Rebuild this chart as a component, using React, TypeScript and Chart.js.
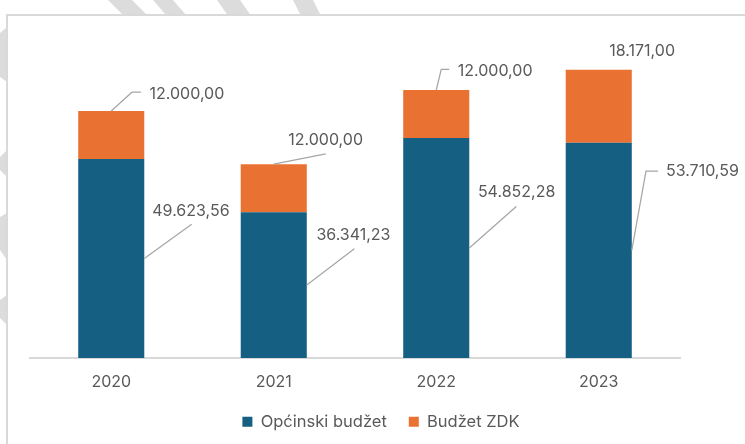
import React, { useEffect, useRef } from 'react';
import { Chart, registerables } from 'chart.js';

Chart.register(...registerables);

// ---- data ----
const categories = ['2020', '2021', '2022', '2023'];
const opcinskiBudzet = [49623.56, 36341.23, 54852.28, 53710.59];
const budzetZDK = [12000, 12000, 12000, 18171];
const seriesNames = ['Općinski budžet', 'Budžet ZDK'];
const seriesColors = ['#156082', '#E97132'];
const yMax = 80000;

// ---- callout placement (offsets from the anchor of each bar segment) ----
type Callout = { text: [number, number]; leader: [number, number][] };
const opcCallouts: Callout[] = [
  { text: [8, -47.2], leader: [[47.4, -34.2]] },
  { text: [9.6, -50], leader: [[47.6, -36.4]] },
  { text: [8.6, -55.7], leader: [[47, -41.4]] },
  { text: [34.2, -78.6], leader: [[14.2, -79.2], [26.2, -79.2]] },
];
const zdkCallouts: Callout[] = [
  { text: [38.3, -17], leader: [[20.7, -18.7], [29.7, -18.7]] },
  { text: [14.5, -23.6], leader: [[52, -10.3]] },
  { text: [21.5, -19], leader: [[5, -20.7], [13, -20.7]] },
  { text: [10.5, -18.3], leader: [] },
];

const FONT = 'Inter';
const TEXT_COLOR = '#595959';

function formatHr(v: number): string {
  const [i, d] = v.toFixed(2).split('.');
  return i.replace(/\B(?=(\d{3})+(?!\d))/g, '.') + ',' + d;
}

const calloutPlugin = {
  id: 'callouts',
  afterDatasetsDraw(chart: any) {
    const ctx = chart.ctx as CanvasRenderingContext2D;
    ctx.save();
    ctx.font = `16px ${FONT}`;
    ctx.fillStyle = TEXT_COLOR;
    ctx.textAlign = 'left';
    ctx.textBaseline = 'middle';
    ctx.strokeStyle = '#A6A6A6';
    ctx.lineWidth = 1.25;
    chart.data.datasets.forEach((ds: any, di: number) => {
      const meta = chart.getDatasetMeta(di);
      const layout = di === 0 ? opcCallouts : zdkCallouts;
      meta.data.forEach((el: any, i: number) => {
        const p = el.getProps(['x', 'y', 'base', 'width'], true);
        const ax = di === 0 ? p.x + p.width / 2 : p.x;
        const ay = di === 0 ? (p.y + p.base) / 2 : p.y;
        const L = layout[i];
        if (L.leader.length) {
          ctx.beginPath();
          ctx.moveTo(ax, ay);
          L.leader.forEach(([dx, dy]) => ctx.lineTo(ax + dx, ay + dy));
          ctx.stroke();
        }
        ctx.fillText(formatHr(ds.data[i]), ax + L.text[0], ay + L.text[1]);
      });
    });
    ctx.restore();
  },
};

const legendShift = {
  id: 'legendShift',
  afterLayout(chart: any) {
    const l = chart.legend;
    if (l) {
      l.left += 26;
      l.right += 26;
    }
  },
};

const stripes: string[] = [
  '108,0 132,0 162,30 138,30',
  '153,0 173,0 199,30 179,30',
  '217,0 240,0 261,30 238,30',
  '293,0 313,0 328,30 308,30',
  '0,33 7,27 12,27 12,84 7,82 0,77',
  '0,157 7,150 12,150 12,178 7,177 0,170',
  '0,217 7,213 12,213 12,262 7,260 0,250',
  '0,300 7,295 12,295 12,326 7,325 0,318',
];

export default function App() {
  const ref = useRef<HTMLCanvasElement>(null);

  useEffect(() => {
    if (!ref.current) return;
    const chart = new Chart(ref.current, {
      type: 'bar',
      data: {
        labels: categories,
        datasets: [
          {
            label: seriesNames[0],
            data: opcinskiBudzet,
            backgroundColor: seriesColors[0],
            barPercentage: 0.4065,
            categoryPercentage: 1,
          },
          {
            label: seriesNames[1],
            data: budzetZDK,
            backgroundColor: seriesColors[1],
            barPercentage: 0.4065,
            categoryPercentage: 1,
          },
        ],
      },
      options: {
        animation: false,
        responsive: false,
        layout: { padding: { top: 37.3, left: 30, right: 65, bottom: 4 } },
        scales: {
          x: {
            stacked: true,
            grid: { display: false, drawTicks: false },
            border: { display: true, color: '#D9D9D9', width: 2 },
            ticks: { color: TEXT_COLOR, font: { family: FONT, size: 16 }, padding: 14.2 },
            afterFit: (scale: any) => {
              scale.height = 33.6;
            },
          },
          y: {
            stacked: true,
            display: false,
            min: 0,
            max: yMax,
          },
        },
        plugins: {
          legend: {
            position: 'bottom',
            labels: {
              boxWidth: 10,
              boxHeight: 10,
              padding: 22,
              color: TEXT_COLOR,
              font: { family: FONT, size: 16.5 },
            },
          },
          tooltip: { enabled: false },
        },
      },
      plugins: [calloutPlugin, legendShift],
    });
    return () => chart.destroy();
  }, []);

  return (
    <div
      style={{
        position: 'fixed',
        left: 0,
        top: 0,
        width: 745,
        height: 444,
        overflow: 'hidden',
        background: '#FFFFFF',
      }}
    >
      <svg width={745} height={444} style={{ position: 'absolute', left: 0, top: 0 }}>
        {stripes.map((pts, i) => (
          <polygon key={i} points={pts} fill="#DCDCDC" />
        ))}
      </svg>
      <div
        style={{
          position: 'absolute',
          left: 6,
          top: 14,
          width: 800,
          height: 500,
          background: '#FFFFFF',
          borderTop: '2px solid #D9D9D9',
          borderLeft: '2px solid #D9D9D9',
        }}
      />
      <canvas
        ref={ref}
        width={745}
        height={444}
        style={{ position: 'absolute', left: 0, top: 0, display: 'block' }}
      />
    </div>
  );
}
